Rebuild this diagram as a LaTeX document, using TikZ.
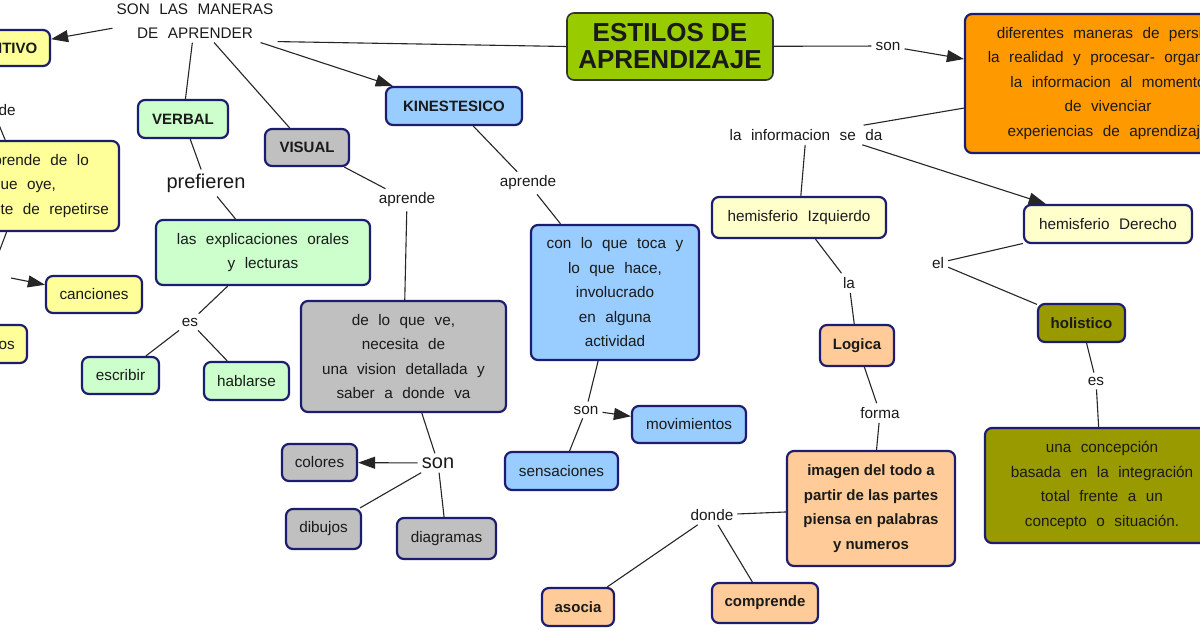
\documentclass[tikz,border=0pt]{standalone}
\usepackage{fontspec}
\setmainfont{Liberation Sans}
\usetikzlibrary{arrows.meta,calc}
\definecolor{bordc}{HTML}{1C1C70}
\definecolor{cyel}{HTML}{FFFF99}
\definecolor{ccream}{HTML}{FFFFCC}
\definecolor{cgreen}{HTML}{CCFFCC}
\definecolor{cgray}{HTML}{C0C0C0}
\definecolor{cblue}{HTML}{99CCFF}
\definecolor{cpeach}{HTML}{FFCC99}
\definecolor{colive}{HTML}{999900}
\definecolor{corange}{HTML}{FF9900}
\definecolor{clime}{HTML}{99CC00}
\definecolor{txt}{HTML}{1A1A1A}
\newcommand\wsp{\spaceskip=0.62em plus 0.1em minus 0.05em\relax}
\tikzset{
  box/.style={draw=bordc, line width=2.2pt, rounded corners=7pt, align=center,
    inner sep=0pt, text=txt, font=\fontsize{15.3}{24.5}\selectfont\wsp},
  bbox/.style={box, font=\fontsize{15}{24.7}\selectfont\bfseries},
  lab/.style={inner sep=4pt, align=center, text=txt, font=\fontsize{15.3}{24}\selectfont\wsp},
  biglab/.style={lab, font=\fontsize{20}{24}\selectfont},
  con/.style={line width=1.1pt, draw=black!85},
  arr/.style={con, -{Triangle[length=17pt,width=12pt]}},
}
\begin{document}
\begin{tikzpicture}[x=1pt,y=-1pt]
\useasboundingbox[fill=white] (0,0) rectangle (1200,630);

% ---- top centre
\node[lab] (sla) at (195,21) {SON LAS MANERAS\\DE APRENDER};
\node[box, fill=clime, draw=black!80, line width=1.6pt, minimum width=206pt, minimum height=67pt,
  font=\fontsize{26}{27}\selectfont\bfseries] (est) at (670,46.5) {ESTILOS DE\\APRENDIZAJE};
\node[lab] (son1) at (888,46) {son};
\node[box, fill=corange, minimum width=286pt, minimum height=139pt] (ora) at (1108,83.5)
  {diferentes maneras de persibir\\la realidad y procesar- organizar\\la informacion al momento\\de vivenciar\\experiencias de aprendizaje};

% ---- left (cut off)
\node[bbox, fill=cyel, minimum width=97pt, minimum height=36pt] (aud) at (1.5,48) {AUDITIVO};
\node[lab] (aprL) at (-12.5,112) {aprende};
\coordinate (aL) at (-3,120);
\node[box, fill=cyel, minimum width=190pt, minimum height=90pt] (audbox) at (24,186)
  {se aprende de lo\\que oye,\\y necesite de repetirse};
\coordinate (bL) at (-1,252);
\coordinate (cL) at (11,278);
\node[box, fill=cyel, minimum width=96pt, minimum height=37pt] (canc) at (94,294.5) {canciones};
\node[box, fill=cyel, minimum width=78pt, minimum height=38pt, text width=52pt] (son0) at (-12,344) {sonidos};

% ---- verbal
\node[bbox, fill=cgreen, minimum width=90pt, minimum height=38pt] (verb) at (183,119) {VERBAL};
\node[biglab] (pref) at (206,183) {prefieren};
\node[box, fill=cgreen, minimum width=214pt, minimum height=65pt] (lasx) at (263,252.5)
  {las explicaciones orales\\y lecturas};
\node[lab] (es1) at (190,322) {es};
\node[box, fill=cgreen, minimum width=77pt, minimum height=37pt] (escr) at (120.5,375.5) {escribir};
\node[box, fill=cgreen, minimum width=85pt, minimum height=38pt] (habl) at (246.5,381) {hablarse};

% ---- visual
\node[bbox, fill=cgray, minimum width=84pt, minimum height=37pt] (vis) at (307,147.5) {VISUAL};
\node[lab] (apr2) at (407,200) {aprende};
\node[box, fill=cgray, minimum width=205pt, minimum height=111pt] (gbox) at (403.5,356.5)
  {de lo que ve,\\necesita de\\una vision detallada y\\saber a donde va};
\node[biglab] (son3) at (438,463) {son};
\node[box, fill=cgray, minimum width=75pt, minimum height=37pt] (col) at (319.5,462.5) {colores};
\node[box, fill=cgray, minimum width=75pt, minimum height=40pt] (dib) at (323.5,529) {dibujos};
\node[box, fill=cgray, minimum width=99pt, minimum height=41pt] (diag) at (446.5,538.5) {diagramas};

% ---- kinestesico
\node[bbox, fill=cblue, minimum width=136pt, minimum height=38pt] (kin) at (454,106) {KINESTESICO};
\node[lab] (apr1) at (528,183) {aprende};
\node[box, fill=cblue, minimum width=168pt, minimum height=135pt] (kbox) at (615,292.5)
  {con lo que toca y\\lo que hace,\\involucrado\\en alguna\\actividad};
\node[lab] (son2) at (586,410) {son};
\node[box, fill=cblue, minimum width=114pt, minimum height=37pt] (mov) at (689,424.5) {movimientos};
\node[box, fill=cblue, minimum width=113pt, minimum height=38pt] (sens) at (561.5,471) {sensaciones};

% ---- hemisferio izquierdo
\node[lab] (lainfo) at (806,135) {la informacion se da};
\node[box, fill=ccream, minimum width=174pt, minimum height=41pt] (hemI) at (799,217.5) {hemisferio Izquierdo};
\node[lab] (la1) at (849,283) {la};
\node[bbox, fill=cpeach, minimum width=74pt, minimum height=41pt] (logi) at (857,345.5) {Logica};
\node[lab] (forma) at (880,413) {forma};
\node[bbox, fill=cpeach, minimum width=168pt, minimum height=115pt] (img) at (871,508.5)
  {imagen del todo a\\partir de las partes\\piensa en palabras\\y numeros};
\node[lab] (donde) at (712,515) {donde};
\node[bbox, fill=cpeach, minimum width=72pt, minimum height=38pt] (asoc) at (578,607) {asocia};
\node[bbox, fill=cpeach, minimum width=106pt, minimum height=40pt] (comp) at (765,603) {comprende};

% ---- hemisferio derecho
\node[box, fill=ccream, minimum width=168pt, minimum height=38pt] (hemD) at (1108,224) {hemisferio Derecho};
\node[lab] (el) at (938,263) {el};
\node[bbox, fill=colive, minimum width=87pt, minimum height=38pt] (hol) at (1081.5,323) {holistico};
\node[lab] (es2) at (1096,381) {es};
\node[box, fill=colive, minimum width=234pt, minimum height=115pt] (conc) at (1102,485.5)
  {una concepción\\basada en la integración\\total frente a un\\concepto o situación.};

% ---- connectors
\draw[arr] (sla.185) -- (aud);
\draw[con] (sla) -- (verb);
\draw[con] (sla) -- (vis);
\draw[arr] (sla) -- (kin);
\draw[con] (sla.-14) -- (est.west);
\draw[con] (est) -- (son1);
\draw[arr] (son1) -- (ora);
\draw[con] (lainfo) -- (ora);
\draw[con] (lainfo) -- (hemI);
\draw[arr] ($(lainfo.south)!0.7!(lainfo.south east)$) -- (hemD);

\draw[con] (aL) -- (audbox);
\draw[con] (audbox) -- (bL);
\draw[arr] (cL) -- (canc);

\draw[con] (verb) -- (pref);
\draw[con] (pref) -- (lasx);
\draw[con] (lasx) -- (es1);
\draw[con] (es1) -- (escr);
\draw[con] (es1) -- (habl);

\draw[con] (vis) -- (apr2);
\draw[con] (apr2) -- (gbox);
\draw[con] (gbox) -- (son3);
\draw[arr] (son3) -- (col);
\draw[con] (son3) -- (dib);
\draw[con] (son3) -- (diag);

\draw[con] (kin) -- (apr1);
\draw[con] (apr1) -- (kbox);
\draw[con] (kbox) -- (son2);
\draw[arr] (son2) -- (mov);
\draw[con] (son2) -- (sens);

\draw[con] (hemI) -- (la1);
\draw[con] (la1) -- (logi);
\draw[con] (logi) -- (forma);
\draw[con] (forma) -- (img);
\draw[con] (img) -- (donde);
\draw[con] (donde) -- (asoc);
\draw[con] (donde) -- (comp);

\draw[con] (hemD) -- (el);
\draw[con] (el) -- (hol);
\draw[con] (hol) -- (es2);
\draw[con] (es2) -- (conc);
\end{tikzpicture}
\end{document}
